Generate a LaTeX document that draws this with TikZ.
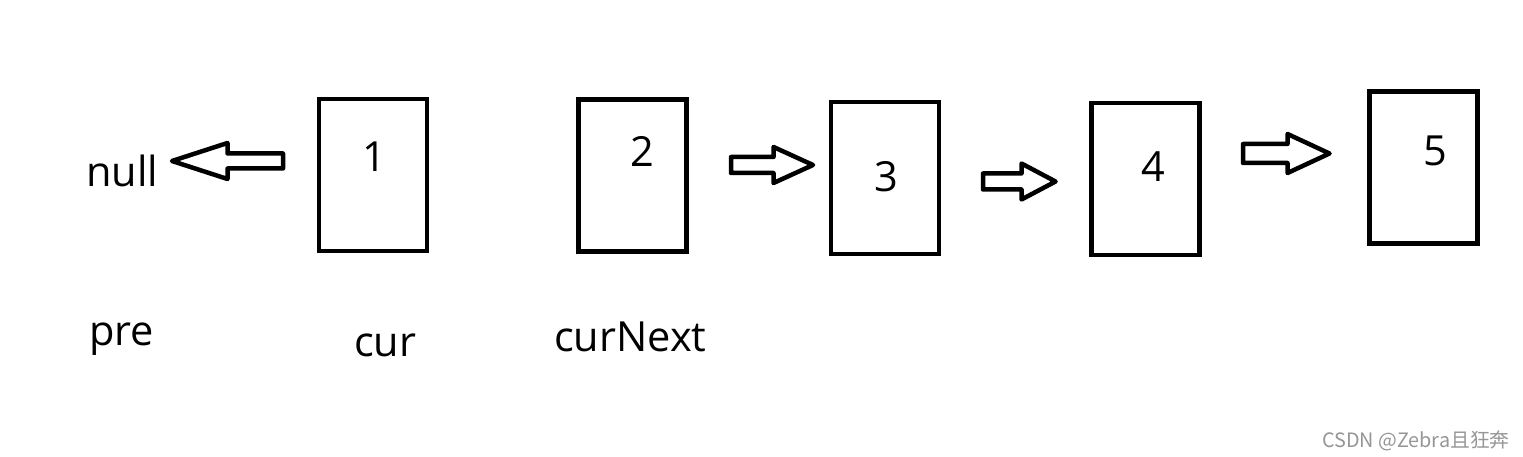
\documentclass[tikz,border=0pt]{standalone}
\usepackage{fontspec}
\setmainfont{Open Sans}
\newfontfamily\cjk{Noto Sans CJK SC}
\usetikzlibrary{calc}
\definecolor{wmgray}{RGB}{150,150,150}
\tikzset{
  box/.style={draw=black, line width=4.5pt, minimum width=108pt, minimum height=152pt, inner sep=0pt},
  blockarrow/.style={draw=black, line width=4.5pt, line join=round, fill=white},
  lbl/.style={font=\fontsize{41.5}{50}\selectfont, inner sep=0pt},
  digit/.style={font=\fontsize{41.5}{50}\selectfont, inner sep=0pt, anchor=base},
  wm/.style={font=\cjk\fontsize{19.8}{24}\selectfont, text=wmgray, inner sep=0pt, anchor=base west}
}
\newcommand\blockarrow[5]{%
  \draw[blockarrow] ($(#1)+(0,-#4)$) -- ($(#2)+(#3,-#4)$) -- ($(#2)+(#3,-#5)$) -- (#2)
    -- ($(#2)+(#3,#5)$) -- ($(#2)+(#3,#4)$) -- ($(#1)+(0,#4)$) -- cycle;}
\begin{document}
\begin{tikzpicture}[x=1pt, y=-1pt]
\useasboundingbox (0,0) rectangle (1523,457);
\fill[white] (0,0) rectangle (1523,457);

% boxes
\node[box] (b1) at (373,175) {};
\node[box] (b2) at (632.5,175.5) {};
\node[box] (b3) at (885,178) {};
\node[box] (b4) at (1145.5,179) {};
\node[box] (b5) at (1423.5,167.5) {};

% digits
\node[digit] (d1) at (374,172) {1};
\node[digit] (d2) at (642,167) {2};
\node[digit] (d3) at (886.5,192) {3};
\node[digit] (d4) at (1153.5,182) {4};
\node[digit] (d5) at (1435,166) {5};

% labels
\node[lbl, anchor=base west] (null) at (86,187) {null};
\node[lbl, anchor=base west] (pre) at (89,345) {pre};
\node[lbl, anchor=base west] (cur) at (354,356) {cur};
\node[lbl, anchor=base west] (curnext) at (554,351) {curNext};

% arrow end points
\coordinate (a0t) at (283,161);   \coordinate (a0h) at (172,161);
\coordinate (a1t) at (731,165);   \coordinate (a1h) at (813,165);
\coordinate (a2t) at (983,181.5); \coordinate (a2h) at (1055.5,181.5);
\coordinate (a3t) at (1243,153.5);\coordinate (a3h) at (1329.5,153.5);

\blockarrow{a0t}{a0h}{55.5}{7.5}{18}
\blockarrow{a1t}{a1h}{-39.5}{8}{18}
\blockarrow{a2t}{a2h}{-34}{8}{18}
\blockarrow{a3t}{a3h}{-42}{9.5}{19.5}

% watermark
\node[wm] (wm) at (1322,447) {CSDN @Zebra且狂奔};
\end{tikzpicture}
\end{document}
